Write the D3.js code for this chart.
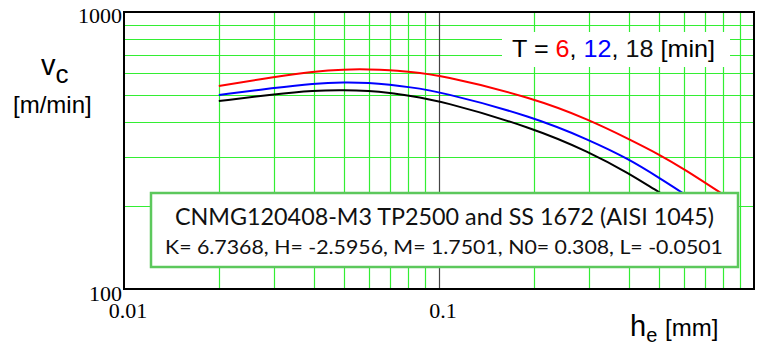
<!DOCTYPE html>
<html lang="en">
<head>
    <meta charset="UTF-8">
    <title>vc vs he</title>
    <script src="https://cdn.jsdelivr.net/npm/d3@7"></script>
    <style>
        body { margin: 0; background: #fff; }
        svg text { font-family: Arial, "Liberation Sans", sans-serif; }
        .tick-lbl { font-family: "Times New Roman", "Liberation Serif", serif !important; font-size: 22px; }
        .box-txt { font-family: Lato, "Open Sans", sans-serif !important; fill: #111; }
    </style>
</head>
<body>
<svg id="chart" width="758" height="346"></svg>
<script>
    // values (h_e in mm, v_c in m/min)
    var he = [0.02, 0.03, 0.04, 0.05, 0.06, 0.07, 0.08, 0.1, 0.2, 0.3, 0.4, 0.5, 0.6, 0.8];
    var vc6 = [541, 583, 610, 621, 621, 617, 608, 594, 489, 408, 348, 306, 271, 219];
    var vc12 = [502, 532, 552, 558, 555, 546, 536, 517, 418, 345, 295, 252, 221, 176];
    var vc18 = [477, 505, 521, 523, 519, 510, 499, 480, 381, 312, 262, 223, 198, 160];
    var series = [
        {T: 6, v: vc6, color: '#ff0000'},
        {T: 12, v: vc12, color: '#0000ff'},
        {T: 18, v: vc18, color: '#000000'}
    ];
    var xTicks = [0.01, 0.1];
    var yTicks = [100, 1000];

    var pL = 124, pR = 754, pT = 12, pB = 289;

    var svg = d3.select('#chart');
    var x = d3.scaleLog().domain([0.01, 1]).range([pL, pR]);
    var y = d3.scaleLog().domain([100, 1000]).range([pB, pT]);

    // grid
    var xGrid = [];
    [0.01, 0.1].forEach(function (d) {
        for (var k = 2; k <= 9; k++) xGrid.push(d * k);
    });
    var yGrid = d3.range(2, 10).map(function (k) { return k * 100; });

    svg.append('g').selectAll('line')
        .data(xGrid)
        .enter().append('line')
        .attr('x1', d => Math.round(x(d)) + 0.5).attr('x2', d => Math.round(x(d)) + 0.5)
        .attr('y1', pT).attr('y2', pB)
        .attr('stroke', '#33ee33').attr('stroke-width', 1.2);
    svg.append('g').selectAll('line')
        .data(yGrid)
        .enter().append('line')
        .attr('y1', d => Math.round(y(d)) + 0.5).attr('y2', d => Math.round(y(d)) + 0.5)
        .attr('x1', pL).attr('x2', pR)
        .attr('stroke', '#33ee33').attr('stroke-width', 1.2);
    svg.append('line')
        .attr('x1', Math.round(x(0.1)) + 0.5).attr('x2', Math.round(x(0.1)) + 0.5)
        .attr('y1', pT).attr('y2', pB)
        .attr('stroke', '#444').attr('stroke-width', 1.2);

    // curves
    var line = d3.line()
        .x(d => x(d[0]))
        .y(d => y(d[1]))
        .curve(d3.curveBasis);
    svg.append('g').selectAll('path')
        .data(series)
        .enter().append('path')
        .attr('d', s => line(he.map((h, i) => [h, s.v[i]])))
        .attr('fill', 'none')
        .attr('stroke', s => s.color)
        .attr('stroke-width', 2);

    // frame
    svg.append('rect')
        .attr('x', pL).attr('y', pT)
        .attr('width', pR - pL).attr('height', pB - pT)
        .attr('fill', 'none').attr('stroke', '#000').attr('stroke-width', 2);

    // tick labels
    svg.selectAll('.ylbl')
        .data(yTicks)
        .enter().append('text')
        .attr('class', 'tick-lbl')
        .attr('x', pL - 2)
        .attr('y', d => y(d) + (d === 100 ? 12 : 11))
        .attr('text-anchor', 'end')
        .text(d => d);
    svg.selectAll('.xlbl')
        .data(xTicks)
        .enter().append('text')
        .attr('class', 'tick-lbl')
        .attr('x', d => x(d) + 4)
        .attr('y', 318)
        .attr('text-anchor', 'middle')
        .text(d => d);

    // axis titles
    var yt = svg.append('text').attr('x', 41).attr('y', 75);
    yt.append('tspan').attr('font-size', 29).text('v');
    yt.append('tspan').attr('font-size', 26).attr('dy', 8).text('c');
    svg.append('text').attr('x', 13).attr('y', 113).attr('font-size', 24).text('[m/min]');

    var xt = svg.append('text').attr('x', 630).attr('y', 336);
    xt.append('tspan').attr('font-size', 29).text('h');
    xt.append('tspan').attr('font-size', 20).attr('dy', 6).text('e');
    svg.append('text').attr('x', 665).attr('y', 336).attr('font-size', 24).text('[mm]');

    // legend
    svg.append('rect')
        .attr('x', 502).attr('y', 32).attr('width', 228).attr('height', 35)
        .attr('fill', '#fff');
    var lg = svg.append('text').attr('x', 512).attr('y', 57).attr('font-size', 24)
        .attr('textLength', 203).attr('lengthAdjust', 'spacingAndGlyphs');
    lg.append('tspan').text('T = ');
    series.forEach(function (s, i) {
        lg.append('tspan').attr('fill', s.color === '#000000' ? '#111' : s.color).text(s.T);
        lg.append('tspan').text(i < series.length - 1 ? ', ' : ' [min]');
    });

    // info box
    svg.append('rect')
        .attr('x', 151).attr('y', 193).attr('width', 587).attr('height', 74)
        .attr('fill', '#fff').attr('stroke', '#5cc85c').attr('stroke-width', 2.5);
    svg.append('text').attr('class', 'box-txt')
        .attr('x', 175).attr('y', 225).attr('font-size', 23)
        .attr('textLength', 539).attr('lengthAdjust', 'spacingAndGlyphs')
        .text('CNMG120408-M3 TP2500 and SS 1672 (AISI 1045)');
    svg.append('text').attr('class', 'box-txt')
        .attr('x', 165).attr('y', 254).attr('font-size', 19.5)
        .attr('textLength', 558).attr('lengthAdjust', 'spacingAndGlyphs')
        .text('K= 6.7368, H= -2.5956, M= 1.7501, N0= 0.308, L= -0.0501');
</script>
</body>
</html>
